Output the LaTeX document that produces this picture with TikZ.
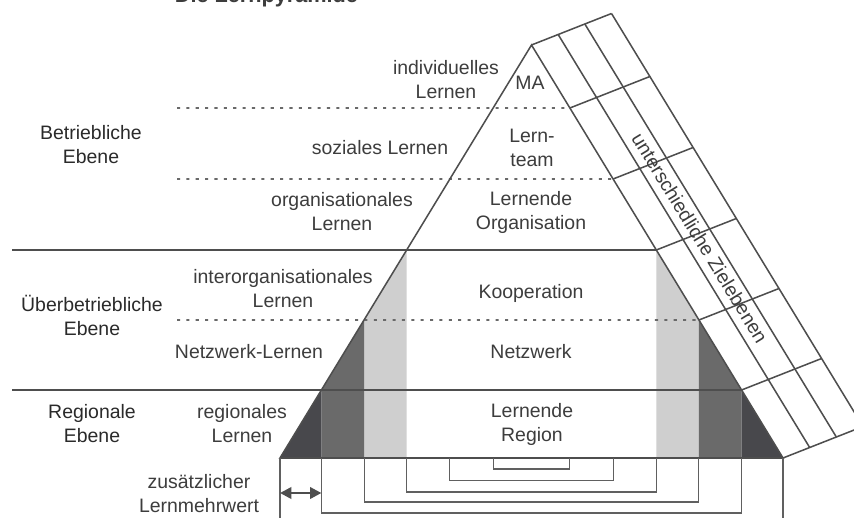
\documentclass[tikz,border=0pt]{standalone}
\usepackage{fontspec}
\setmainfont{Liberation Sans}
\usepackage{tikz}
\usetikzlibrary{arrows.meta,calc}
\definecolor{ink}{HTML}{3D3D3D}
\definecolor{inkdark}{HTML}{2A2A2A}
\definecolor{rule}{HTML}{4E4E4E}
\definecolor{shadelight}{HTML}{CFCFCF}
\definecolor{shademid}{HTML}{6A6A6A}
\definecolor{shadedark}{HTML}{48484C}
\tikzset{
  lbl/.style={text=ink,align=center,inner sep=0pt,font=\fontsize{16.6}{20.5}\selectfont},
  lvl/.style={lbl,text=inkdark},
  lline/.style={line width=1.3pt,draw=rule},
  ldot/.style={line width=1.4pt,draw=rule!85,dash pattern=on 2.6pt off 5.4pt},
  lbrk/.style={line width=0.9pt,draw=rule!90},
  larr/.style={{Triangle[length=3.4mm,width=3.4mm]}-{Triangle[length=3.4mm,width=3.4mm]},line width=2.2pt,draw=rule,fill=rule}
}

\begin{document}
\begin{tikzpicture}[x=0.3mm,y=-0.3mm]
  \useasboundingbox (0,0) rectangle (854,518);
  \clip (0,0) rectangle (854,518);
  \fill[white] (0,0) rectangle (854,518);
  \coordinate (apex) at (531.5,45);
  \coordinate (bl) at (280,458);
  \coordinate (br) at (783,458);
  \coordinate (off) at (80,-31.5);
  % level points on both flanks
  \foreach \n/\yy in {a/108,b/179,c/250,d/320,e/390}{
    \pgfmathsetmacro\lpos{(\yy-45)/413}
    \coordinate (L\n) at ($(apex)!\lpos!(bl)$);
    \coordinate (R\n) at ($(apex)!\lpos!(br)$);
  }
  % shaded steps
  \fill[shadelight] (Lc) -- (Lc|-bl) -- (Ld|-bl) -- (Ld) -- cycle;
  \fill[shademid] (Ld) -- (Ld|-bl) -- (Le|-bl) -- (Le) -- cycle;
  \fill[shadedark] (Le) -- (Le|-bl) -- (bl) -- cycle;
  \fill[shadelight] (Rc) -- (Rc|-br) -- (Rd|-br) -- (Rd) -- cycle;
  \fill[shademid] (Rd) -- (Rd|-br) -- (Re|-br) -- (Re) -- cycle;
  \fill[shadedark] (Re) -- (Re|-br) -- (br) -- cycle;
  % level lines
  \draw[lline] (12,250) -- (Rc);
  \draw[lline] (12,390) -- (Re);
  \foreach \n/\yy in {a/108,b/179,d/320} \draw[ldot] (177,\yy) -- (R\n);
  \draw[lline] (bl) -- (apex) -- (br) -- cycle;
  % side band
  \foreach \f in {0.3333,0.6667,1} \draw[lline] ($(apex)+\f*(off)$) -- ($(br)+\f*(off)$);
  \foreach \p in {apex,Ra,Rb,Rc,Rd,Re,br} \draw[lline] (\p) -- ++(off);
  \node[lbl,rotate=-58.6] (goals) at (700,238) {unterschiedliche Zielebenen};
  % nested brackets below the base
  \foreach \n/\d in {a/11,b/22.5,c/34,d/44,e/55} \draw[lbrk] (L\n|-bl) -- ++(0,\d) -| (R\n|-br);
  \draw[lbrk] (bl) -- ++(0,70);
  \draw[lbrk] (br) -- ++(0,70);
  \coordinate (gl) at (280,493);
  \coordinate (gr) at (Le|-gl);
  \draw[larr] (gl) -- (gr);
  % texts
  \node[lbl,font=\bfseries\fontsize{18.5}{22}\selectfont,anchor=base] (title) at (266.5,3) {Die Lernpyramide};
  \node[lvl] (be) at (91,145) {Betriebliche\\Ebene};
  \node[lvl] (ue) at (92,315) {Überbetriebliche\\Ebene};
  \node[lvl] (re) at (92,424) {Regionale\\Ebene};
  \node[lbl] (il) at (446,80) {individuelles\\Lernen};
  \node[lbl] (ma) at (530,83) {MA};
  \node[lbl] (sl) at (380,148) {soziales Lernen};
  \node[lbl] (lt) at (532,148) {Lern-\\team};
  \node[lbl] (ol) at (342,212) {organisationales\\Lernen};
  \node[lbl] (lo) at (531,212) {Lernende\\Organisation};
  \node[lbl] (iol) at (283,289) {interorganisationales\\Lernen};
  \node[lbl] (ko) at (531,293) {Kooperation};
  \node[lbl] (nl) at (249,352) {Netzwerk-Lernen};
  \node[lbl] (nw) at (531,352) {Netzwerk};
  \node[lbl] (rl) at (242,424) {regionales\\Lernen};
  \node[lbl] (lr) at (532,424) {Lernende\\Region};
  \node[lbl] (zl) at (199,494) {zusätzlicher\\Lernmehrwert};
\end{tikzpicture}
\end{document}
